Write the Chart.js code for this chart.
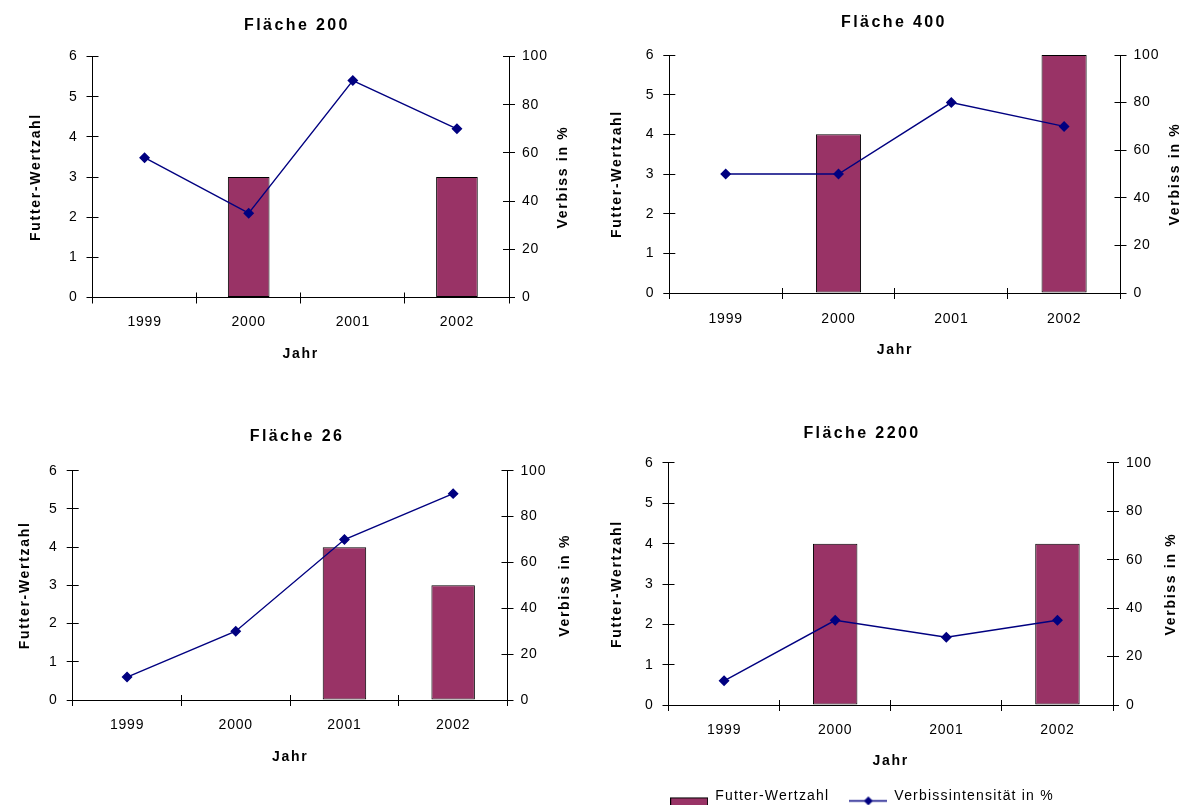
<!DOCTYPE html>
<html>
<head>
<meta charset="utf-8">
<script src="https://cdn.jsdelivr.net/npm/chart.js@4.4.1/dist/chart.umd.min.js"></script>
<style>
  html, body { margin: 0; background: #fff; overflow: hidden; }
  body { width: 1182px; height: 805px; position: relative; }
  canvas { position: absolute; }
</style>
</head>
<body>
<script>
const years = ["1999", "2000", "2001", "2002"];
const titles = ["Fläche 200", "Fläche 400", "Fläche 26", "Fläche 2200"];

// Futter-Wertzahl (bars), null = no bar
const futter200 = [null, 3, null, 3];
const futter400 = [null, 4, null, 6];
const futter26 = [null, null, 4, 3];
const futter2200 = [null, 4, null, 4];

// Verbissintensität in % (line)
const verbiss200 = [58, 35, 90, 70];
const verbiss400 = [50, 50, 80, 70];
const verbiss26 = [10, 30, 70, 90];
const verbiss2200 = [10, 35, 28, 35];

const futterLabel = "Futter-Wertzahl";
const verbissLabel = "Verbissintensität in %";
const xTitle = "Jahr";
const yTitle = "Futter-Wertzahl";
const y1Title = "Verbiss in %";

const FONT = "'Liberation Sans', Arial, Helvetica, sans-serif";
const BAR = "#993366";
const LINE = "#000080";
const LH = 14 * 1.2; // line height of 14px text

// where each panel sits on the page
const panels = [
  { area: { l: 92.5, r: 509, t: 56.5, b: 297.5 }, center: 297, titleY: 26, leftTitleX: 36, rightTitleX: 563, xLabelY: 322, jahrY: 354 },
  { area: { l: 669.3, r: 1120.5, t: 55, b: 293 }, center: 894, titleY: 22.5, leftTitleX: 617, rightTitleX: 1175, xLabelY: 319, jahrY: 350 },
  { area: { l: 72.7, r: 507.5, t: 470.7, b: 700 }, center: 297, titleY: 437, leftTitleX: 25, rightTitleX: 565, xLabelY: 725, jahrY: 757 },
  { area: { l: 668.5, r: 1113, t: 463, b: 705 }, center: 862, titleY: 434, leftTitleX: 617, rightTitleX: 1171, xLabelY: 730, jahrY: 761, legend: true },
];

// wrap a draw/measure method so its text gets letter spacing
const spaced = (obj, name, px) => {
  const orig = obj[name];
  obj[name] = function (...args) {
    const prev = this.ctx.letterSpacing;
    this.ctx.letterSpacing = px + "px";
    const out = orig.apply(this, args);
    this.ctx.letterSpacing = prev;
    return out;
  };
};

// Excel style tick marks cross the axis: add the inner half
const align = (v) => Math.round(v - 0.5) + 0.5;
const innerTicks = {
  id: "innerTicks",
  beforeDatasetsDraw(chart) {
    const { ctx, chartArea: a, scales } = chart;
    ctx.save();
    ctx.strokeStyle = "#000";
    ctx.lineWidth = 1;
    ctx.beginPath();
    scales.y.ticks.forEach((t) => {
      const y = align(scales.y.getPixelForValue(t.value));
      ctx.moveTo(a.left, y);
      ctx.lineTo(a.left + 6, y);
    });
    scales.y1.ticks.forEach((t) => {
      const y = align(scales.y1.getPixelForValue(t.value));
      ctx.moveTo(a.right, y);
      ctx.lineTo(a.right - 6, y);
    });
    for (let i = 0; i <= years.length; i++) {
      const x = align(scales.x.getPixelForValue(i - 0.5));
      ctx.moveTo(x, a.bottom);
      ctx.lineTo(x, a.bottom - 5);
    }
    ctx.stroke();
    ctx.restore();
  },
};

// legend markers: bar box and line with diamond
const barMarker = document.createElement("canvas");
barMarker.width = 38;
barMarker.height = 30;
{
  const c = barMarker.getContext("2d");
  c.fillStyle = BAR;
  c.fillRect(0.5, 16.5, 37, 13);
  c.strokeStyle = "#000";
  c.lineWidth = 1;
  c.strokeRect(0.5, 16.5, 37, 13);
}
const lineMarker = document.createElement("canvas");
lineMarker.width = 38;
lineMarker.height = 20;
{
  const c = lineMarker.getContext("2d");
  c.strokeStyle = LINE;
  c.lineWidth = 1.3;
  c.beginPath();
  c.moveTo(0, 14.5);
  c.lineTo(38, 14.5);
  c.stroke();
  c.fillStyle = LINE;
  c.beginPath();
  c.moveTo(19, 10);
  c.lineTo(23.5, 14.5);
  c.lineTo(19, 19);
  c.lineTo(14.5, 14.5);
  c.closePath();
  c.fill();
}

const makeChart = (p, title, futter, verbiss) => {
  let OL = Math.min(p.leftTitleX - LH / 2, 2 * p.center - (p.rightTitleX + LH / 2));
  OL = Math.floor(OL);
  const OR = Math.ceil(2 * p.center - OL);
  const top = Math.floor(p.titleY - 9.6 - 6);
  const xBottom = p.jahrY + LH / 2;
  const legendH = p.legend ? 44 : 0;
  const bottom = Math.ceil(xBottom + legendH);

  const canvas = document.createElement("canvas");
  canvas.width = OR - OL;
  canvas.height = bottom - top;
  canvas.style.left = OL + "px";
  canvas.style.top = top + "px";
  document.body.appendChild(canvas);

  const rightOff = OR - p.rightTitleX;

  const chart = new Chart(canvas, {
    data: {
      labels: years,
      datasets: [
        {
          type: "bar",
          label: futterLabel,
          data: futter,
          yAxisID: "y",
          backgroundColor: BAR,
          borderColor: "#000",
          borderWidth: 1,
          borderSkipped: false,
          barPercentage: 0.4,
          categoryPercentage: 1,
          order: 1,
        },
        {
          type: "line",
          label: verbissLabel,
          data: verbiss,
          yAxisID: "y1",
          borderColor: LINE,
          borderWidth: 1.4,
          pointStyle: "rectRot",
          pointRadius: 4.5,
          pointBackgroundColor: LINE,
          pointBorderColor: LINE,
          tension: 0,
          clip: false,
          order: 0,
        },
      ],
    },
    plugins: [innerTicks],
    options: {
      responsive: false,
      animation: false,
      events: [],
      layout: { padding: { left: 0, right: 0, top: 0, bottom: bottom - xBottom - legendH } },
      plugins: {
        tooltip: { enabled: false },
        title: {
          display: true,
          text: title,
          color: "#000",
          font: { family: FONT, size: 16, weight: "bold" },
          padding: { top: p.titleY - 9.6 - top, bottom: p.area.t - p.titleY - 9.6 },
        },
        legend: {
          display: !!p.legend,
          position: "bottom",
          labels: {
            color: "#000",
            font: { family: FONT, size: 14 },
            padding: 20,
            usePointStyle: true,
            pointStyleWidth: 38,
            boxHeight: 14,
            sort: (a, b) => a.datasetIndex - b.datasetIndex,
            generateLabels: (ch) =>
              Chart.defaults.plugins.legend.labels.generateLabels(ch).map((item) => ({
                ...item,
                pointStyle: item.datasetIndex === 0 ? barMarker : lineMarker,
              })),
          },
        },
      },
      scales: {
        x: {
          type: "category",
          offset: true,
          grid: { offset: true, drawOnChartArea: false, tickLength: 6, tickColor: "#000" },
          border: { color: "#000", width: 1 },
          ticks: { color: "#000", font: { family: FONT, size: 14 }, padding: p.xLabelY - p.area.b - 6 - LH / 2, maxRotation: 0 },
          title: { display: true, text: xTitle, color: "#000", font: { family: FONT, size: 14, weight: "bold" }, padding: { top: 0, bottom: 0 } },
          afterFit: (s) => { s.height = xBottom - p.area.b; },
        },
        y: {
          position: "left",
          min: 0,
          max: 6,
          ticks: { stepSize: 1, color: "#000", font: { family: FONT, size: 14 }, padding: 9 },
          grid: { drawOnChartArea: false, tickLength: 6, tickColor: "#000" },
          border: { color: "#000", width: 1 },
          title: { display: true, text: yTitle, color: "#000", font: { family: FONT, size: 14, weight: "bold" }, padding: { top: p.leftTitleX - LH / 2 - OL, bottom: 0 } },
          afterFit: (s) => { s.width = p.area.l - OL; },
        },
        y1: {
          position: "right",
          min: 0,
          max: 100,
          ticks: { stepSize: 20, color: "#000", font: { family: FONT, size: 14 }, padding: 7 },
          grid: { drawOnChartArea: false, tickLength: 6, tickColor: "#000" },
          border: { color: "#000", width: 1 },
          title: { display: true, text: y1Title, color: "#000", font: { family: FONT, size: 14, weight: "bold" } },
          afterFit: (s) => { s.width = OR - p.area.r; },
        },
      },
    },
  });

  spaced(chart.titleBlock, "draw", 2.4);
  spaced(chart.scales.x, "drawTitle", 1.7);
  spaced(chart.scales.y, "drawTitle", 1.7);
  ["x", "y", "y1"].forEach((id) => spaced(chart.scales[id], "drawLabels", 0.8));
  if (p.legend) {
    spaced(chart.legend, "fit", 1.2);
    spaced(chart.legend, "draw", 1.2);
  }
  // right axis title reads bottom to top, like the left one
  chart.scales.y1.drawTitle = function () {
    const ctx = this.ctx;
    const t = this.options.title;
    ctx.save();
    ctx.letterSpacing = "1.7px";
    ctx.font = "bold 14px " + FONT;
    ctx.fillStyle = t.color;
    ctx.textAlign = "center";
    ctx.textBaseline = "middle";
    ctx.translate(this.right - rightOff, (this.top + this.bottom) / 2);
    ctx.rotate(-Math.PI / 2);
    ctx.fillText(t.text, 0, 0);
    ctx.restore();
  };
  chart.update();
  return chart;
};

makeChart(panels[0], titles[0], futter200, verbiss200);
makeChart(panels[1], titles[1], futter400, verbiss400);
makeChart(panels[2], titles[2], futter26, verbiss26);
makeChart(panels[3], titles[3], futter2200, verbiss2200);
</script>
</body>
</html>
